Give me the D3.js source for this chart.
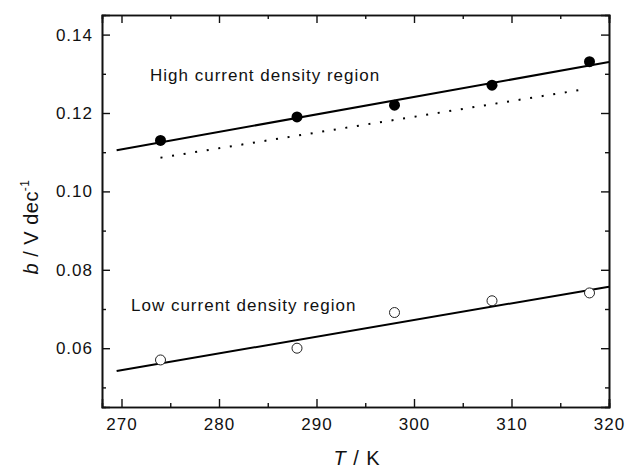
<!DOCTYPE html>
<html><head><meta charset="utf-8">
<script src="https://cdn.jsdelivr.net/npm/d3@7"></script>
<style>body{margin:0;background:#fff}text{font-family:"Liberation Sans",Arial,sans-serif;fill:#111}</style>
</head><body><svg id="c" width="626" height="468"></svg>
<script>
const temps = [274, 288, 298, 308, 318];
const highB = [0.113, 0.119, 0.122, 0.1271, 0.1331];
const lowB = [0.057, 0.060, 0.0691, 0.0721, 0.0741];
const highFit = [[269.5, 0.1105], [320, 0.1330]];
const lowFit = [[269.5, 0.0542], [320, 0.0757]];
const dottedFit = [[274, 0.1086], [317.6, 0.1261]];
const xTicks = [270, 280, 290, 300, 310, 320];
const yTicks = [0.06, 0.08, 0.10, 0.12, 0.14];
const labels = ["High current density region", "Low current density region"];

const svg = d3.select("#c");
const L = 102, R = 609, T = 15, B = 407;
const x = d3.scaleLinear().domain([268, 320]).range([L, R]);
const y = d3.scaleLinear().domain([0.045, 0.145]).range([B, T]);

const xMinor = d3.range(265, 321, 5).filter(v => v >= 268 && xTicks.indexOf(v) < 0);
const yMinor = d3.range(0.05, 0.145, 0.02).map(v => +v.toFixed(3));

function axisGroup(gen, tx, ty) {
  const g = svg.append("g").attr("transform", `translate(${tx},${ty})`).call(gen);
  g.select(".domain").attr("stroke", "#111").attr("stroke-width", 1.6);
  g.selectAll(".tick line").attr("stroke", "#111").attr("stroke-width", 1.4);
  g.selectAll(".tick text").style("font-size", "17px").style("letter-spacing", "1px").attr("fill", "#111");
  return g;
}
// bottom
axisGroup(d3.axisBottom(x).tickValues(xTicks).tickSize(-8).tickPadding(11).tickFormat(d3.format("d")), 0, B);
axisGroup(d3.axisBottom(x).tickValues(xMinor).tickSize(-4).tickFormat(""), 0, B);
// top
axisGroup(d3.axisTop(x).tickValues(xTicks).tickSize(-8).tickFormat(""), 0, T);
axisGroup(d3.axisTop(x).tickValues(xMinor).tickSize(-4).tickFormat(""), 0, T);
// left
axisGroup(d3.axisLeft(y).tickValues(yTicks).tickSize(-8).tickPadding(9).tickFormat(d3.format(".2f")), L, 0);
axisGroup(d3.axisLeft(y).tickValues(yMinor).tickSize(-4).tickFormat(""), L, 0);
// right
axisGroup(d3.axisRight(y).tickValues(yTicks).tickSize(-8).tickFormat(""), R, 0);
axisGroup(d3.axisRight(y).tickValues(yMinor).tickSize(-4).tickFormat(""), R, 0);

const line = d3.line().x(d => x(d[0])).y(d => y(d[1]));
svg.append("path").attr("d", line(highFit)).attr("fill", "none").attr("stroke", "#000").attr("stroke-width", 2);
svg.append("path").attr("d", line(lowFit)).attr("fill", "none").attr("stroke", "#000").attr("stroke-width", 2);
svg.append("path").attr("d", line(dottedFit)).attr("fill", "none").attr("stroke", "#000").attr("stroke-width", 2)
  .attr("stroke-dasharray", "2,9.7");

svg.selectAll("circle.h").data(temps).enter().append("circle")
  .attr("cx", d => x(d)).attr("cy", (d, i) => y(highB[i])).attr("r", 5.5).attr("fill", "#000");
svg.selectAll("circle.l").data(temps).enter().append("circle")
  .attr("cx", d => x(d)).attr("cy", (d, i) => y(lowB[i])).attr("r", 5).attr("fill", "#fff")
  .attr("stroke", "#222").attr("stroke-width", 1);

svg.append("text").attr("x", 150).attr("y", 81).style("font-size", "17px").style("letter-spacing", "1px").text(labels[0]);
svg.append("text").attr("x", 131).attr("y", 311).style("font-size", "17px").style("letter-spacing", "1px").text(labels[1]);

const xl = svg.append("text").attr("x", 357).attr("y", 465).attr("text-anchor", "middle").style("font-size", "20px").style("letter-spacing", "1px");
xl.append("tspan").style("font-style", "italic").text("T");
xl.append("tspan").text(" / K");

const yl = svg.append("text").attr("transform", "translate(38,227) rotate(-90)").attr("text-anchor", "middle").style("font-size", "20px").style("letter-spacing", "0.5px");
yl.append("tspan").style("font-style", "italic").text("b");
yl.append("tspan").text(" / V dec");
yl.append("tspan").attr("dy", -9).style("font-size", "12px").text("-1");
</script></body></html>
